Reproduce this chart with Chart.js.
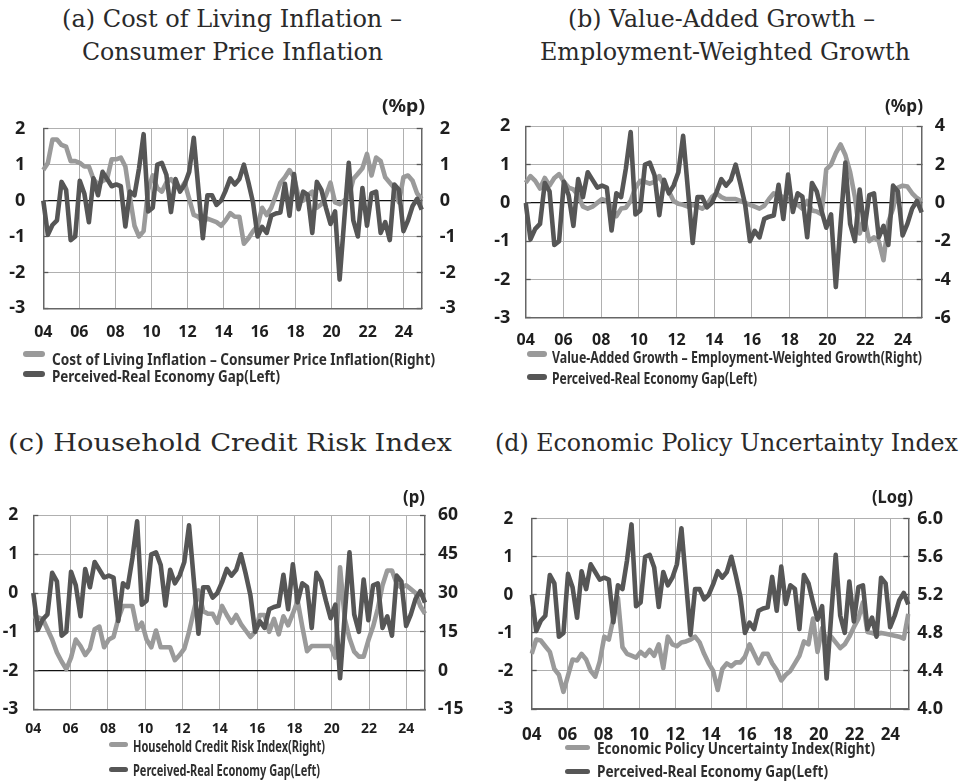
<!DOCTYPE html>
<html><head><meta charset="utf-8">
<script src="https://cdn.jsdelivr.net/npm/chart.js@4.4.1/dist/chart.umd.min.js"></script>
<style>
html,body{margin:0;padding:0;background:#fff;}
body{width:963px;height:782px;position:relative;overflow:hidden;}
canvas{position:absolute;}
.t{position:absolute;white-space:nowrap;transform-origin:0 0;line-height:1;}
.title{font-family:"DejaVu Serif","Liberation Serif",serif;font-size:25px;color:#2a2a2a;}
.unit{font-family:"Noto Sans",sans-serif;font-weight:bold;font-size:17px;color:#222;}
.leg{font-family:"Noto Sans",sans-serif;font-weight:bold;font-size:16px;color:#2e2e2e;}
.sw{position:absolute;border-radius:3px;}
</style></head><body>
<script>
// ---------- DATA ----------
const quarters = [];
for (let y = 2004; y <= 2024; y++) for (let q = 1; q <= 4; q++) quarters.push(y + 'Q' + q);
const yearTicks = [2004, 2006, 2008, 2010, 2012, 2014, 2016, 2018, 2020, 2022, 2024];
const yearLabels = ['04', '06', '08', '10', '12', '14', '16', '18', '20', '22', '24'];

// Perceived-Real Economy Gap (left axis, all panels)
const perceivedGap = [
  0.0, -0.95, -0.68, -0.55, 0.52, 0.3, -1.1, -1.0,
  0.55, 0.2, -0.6, 0.62, 0.15, 0.8, 0.6, 0.4,
  0.45, 0.4, -0.72, 0.25, 0.15, 0.9, 1.85, -0.3,
  -0.2, 1.0, 1.05, 0.72, -0.32, 0.6, 0.25, 0.45,
  0.8, 1.75, 0.35, -1.05, 0.15, 0.15, -0.12, 0.0,
  0.28, 0.62, 0.45, 0.6, 1.0, 0.5, -0.05, -1.0,
  -0.73, -0.9, -0.42, -0.36, -0.33, 0.47, -0.42, 0.74,
  -0.24, 0.25, 0.16, -0.9, 0.52, 0.3, -0.2, -0.65,
  -0.3, -2.2, -0.55, 1.05, -0.55, -1.0, 0.35, -0.7,
  0.2, 0.25, -0.9, -0.6, -1.1, 0.45, 0.3, -0.85,
  -0.55, -0.15, 0.05, -0.25
];
// (a) Cost of Living Inflation - Consumer Price Inflation (right)
const costOfLivingGap = [
  0.85, 1.05, 1.7, 1.7, 1.55, 1.5, 1.1, 1.1,
  1.05, 0.95, 0.95, 0.6, 0.45, 0.55, 0.6, 1.15,
  1.15, 1.2, 0.95, 0.1, -0.7, -1.0, -0.85, 0.3,
  0.7, 0.35, 0.25, 0.5, 0.6, 0.45, 0.3, 0.5,
  0.05, -0.4, -0.45, -0.6, -0.5, -0.55, -0.6, -0.7,
  -0.55, -0.35, -0.45, -0.45, -1.2, -1.05, -0.85, -0.7,
  -0.2, -0.4, -0.2, 0.15, 0.5, 0.65, 0.85, 0.65,
  0.1, 0.0, 0.15, 0.25, -0.2, -0.1, 0.15, 0.5,
  -0.05, -0.1, 0.0, 0.1, 0.6, 0.75, 0.9, 1.3,
  0.7, 1.2, 1.1, 0.65, 0.5, 0.35, -0.05, 0.65,
  0.7, 0.55, 0.2, 0.05
];
// (b) Value-Added Growth - Employment-Weighted Growth (right)
const valueAddedGap = [
  1.05, 1.4, 1.15, 0.75, 1.3, 0.9, 1.3, 1.5,
  1.1, 0.8, 0.7, 0.4, -0.2, -0.3, -0.2, 0.0,
  0.2, 0.1, -0.2, -0.7, -0.3, -0.25, 0.1, 0.8,
  1.15, 1.1, 1.0, 1.1, 1.4, 0.9, 0.6, 0.1,
  -0.05, -0.1, -0.2, -0.1, -0.2, -0.3, -0.1, 0.3,
  0.5, 0.3, 0.2, 0.2, 0.2, 0.1, 0.0, -0.1,
  -0.2, -0.3, -0.15, 0.2, 0.5, 0.4, 0.3, 0.2,
  0.0, -0.1, -0.3, 0.1, -0.4, -0.45, -0.6, 1.75,
  2.0, 2.6, 3.05, 2.5, 1.6, 0.3, -1.6, -0.8,
  -2.0, -1.8, -2.0, -3.0, -1.0, -0.3, 0.8, 0.9,
  0.85, 0.5, 0.25, 0.1
];
// (c) Household Credit Risk Index (right)
const householdCreditRisk = [
  21, 20.5, 20, 16, 12, 7, 3.5, 0.5,
  5, 12, 9.5, 6, 8.5, 16, 17, 9,
  12, 13, 20, 25, 25, 25, 16, 18.5,
  12, 9, 15.5, 9, 9, 9, 4, 6,
  8.5, 15, 23, 31, 23, 22, 22, 18.5,
  25, 21.5, 18.5, 21.5, 18, 15.5, 13, 15,
  21.5, 21.5, 15, 20, 14, 21, 17.5, 22,
  27, 17, 7.5, 9.5, 9.5, 9.5, 9.5, 9.5,
  5, 40, 20, 12.5, 7.3, 5.4, 5.4, 11.7,
  17, 24, 33, 38.7, 38.7, 33.6, 32, 33,
  31.5, 30, 25, 22
];
// (d) Economic Policy Uncertainty Index, log (right)
const policyUncertainty = [
  4.58, 4.73, 4.72, 4.66, 4.6, 4.42, 4.36, 4.18,
  4.35, 4.52, 4.51, 4.58, 4.52, 4.4, 4.34, 4.5,
  4.76, 4.73, 4.95, 5.17, 4.65, 4.58, 4.56, 4.54,
  4.6, 4.56, 4.62, 4.56, 4.68, 4.43, 4.76, 4.68,
  4.66, 4.7, 4.71, 4.73, 4.76, 4.7, 4.58, 4.48,
  4.4, 4.2, 4.42, 4.48, 4.45, 4.49, 4.49, 4.55,
  4.68, 4.58, 4.48, 4.58, 4.58, 4.48, 4.41, 4.3,
  4.36, 4.4, 4.48, 4.56, 4.71, 4.68, 4.95, 4.6,
  4.85, 4.72, 4.76, 4.7, 4.64, 4.68, 4.76, 4.86,
  4.95, 5.12, 4.81, 4.8, 4.78, 4.8, 4.79, 4.78,
  4.77, 4.76, 4.74, 5.0
];

const leftTicks = [2, 1, 0, -1, -2, -3];
const leftLabels = ['2', '1', '0', '-1', '-2', '-3'];
const rightTicksA = [2, 1, 0, -1, -2, -3];
const rightLabelsA = ['2', '1', '0', '-1', '-2', '-3'];
const rightTicksB = [4, 2, 0, -2, -4, -6];
const rightLabelsB = ['4', '2', '0', '-2', '-4', '-6'];
const rightTicksC = [60, 45, 30, 15, 0, -15];
const rightLabelsC = ['60', '45', '30', '15', '0', '-15'];
const rightTicksD = [6.0, 5.6, 5.2, 4.8, 4.4, 4.0];
const rightLabelsD = ['6.0', '5.6', '5.2', '4.8', '4.4', '4.0'];

const gapLabel = 'Perceived-Real Economy Gap(Left)';

// ---------- STYLE ----------
const DARK = '#565656', LIGHT = '#9a9a9a', GRID = '#b0b0b0', BORDER = '#666666', TXT = '#1e1e1e';
const FONT = 'Noto Sans';
const LINE_W = 4.6;

function makeChart(cfg) {
  const B = cfg.box, P = cfg.plot;
  const cv = document.createElement('canvas');
  cv.width = B.w; cv.height = B.h;
  cv.style.left = B.x + 'px'; cv.style.top = B.y + 'px';
  cv.style.width = B.w + 'px'; cv.style.height = B.h + 'px';
  document.body.appendChild(cv);
  const lw = P.L - B.x, rw = B.x + B.w - P.R, pt = P.T - B.y, xh = B.y + B.h - P.B;
  const TL = -5;
  const lMap = new Map(leftTicks.map((v, i) => [v, leftLabels[i]]));
  const rMap = new Map(cfg.rTicks.map((v, i) => [v, cfg.rLabels[i]]));
  const rMin = Math.min(...cfg.rTicks), rMax = Math.max(...cfg.rTicks);
  new Chart(cv, {
    type: 'line',
    data: {
      labels: quarters,
      datasets: [
        { label: gapLabel, data: perceivedGap, yAxisID: 'y', xAxisID: 'x',
          borderColor: DARK, borderWidth: LINE_W, order: 0 },
        { label: cfg.lightLabel, data: cfg.light, yAxisID: 'y2', xAxisID: 'x',
          borderColor: LIGHT, borderWidth: LINE_W, order: 1 }
      ]
    },
    options: {
      responsive: false, animation: false, events: [], devicePixelRatio: 1,
      layout: { padding: { top: pt, left: 0, right: 0, bottom: 0 } },
      elements: { point: { radius: 0 }, line: { tension: 0, borderJoinStyle: 'round', borderCapStyle: 'butt' } },
      plugins: { legend: { display: false }, tooltip: { enabled: false }, title: { display: false } },
      scales: {
        x: { type: 'category', display: false, offset: false },
        xt: {
          type: 'linear', position: 'bottom', min: 2004, max: 2025,
          afterBuildTicks: s => { s.ticks = yearTicks.map(v => ({ value: v })); },
          afterFit: s => { s.height = xh; },
          grid: { color: c => (c.tick && c.tick.value === 2004) ? BORDER : GRID, lineWidth: 1, drawTicks: false },
          border: { display: true, color: BORDER, width: 1.5 },
          ticks: { autoSkip: false, maxRotation: 0, padding: cfg.xPad, color: TXT,
                   font: { family: FONT, weight: 'bold', size: cfg.xFont },
                   callback: (v) => yearLabels[yearTicks.indexOf(v)] }
        },
        y: {
          type: 'linear', position: 'left', min: -3, max: 2,
          afterBuildTicks: s => { s.ticks = leftTicks.slice().sort((a, b) => a - b).map(v => ({ value: v })); },
          afterFit: s => { s.width = lw; },
          grid: { color: c => c.tick.value === cfg.zero ? '#111' : (c.tick.value === -3 ? BORDER : GRID),
                  lineWidth: c => c.tick.value === cfg.zero ? 1.3 : 1,
                  drawTicks: true, tickLength: TL, tickColor: '#555', tickWidth: 1.3 },
          border: { display: true, color: BORDER, width: 1.5 },
          ticks: { padding: cfg.lPad - TL, color: TXT, font: { family: FONT, weight: 'bold', size: cfg.yFont },
                   callback: v => lMap.get(v) }
        },
        y2: {
          type: 'linear', position: 'right', min: rMin, max: rMax,
          afterBuildTicks: s => { s.ticks = cfg.rTicks.slice().sort((a, b) => a - b).map(v => ({ value: v })); },
          afterFit: s => { s.width = rw; },
          grid: { drawOnChartArea: false, drawTicks: true, tickLength: TL, tickColor: '#555', tickWidth: 1.3 },
          border: { display: true, color: BORDER, width: 1.5 },
          ticks: { padding: cfg.rPad - TL, color: TXT, font: { family: FONT, weight: 'bold', size: cfg.rFont || cfg.yFont },
                   callback: v => rMap.get(v) }
        }
      }
    }
  });
}

makeChart({ box: { x: 0, y: 95, w: 480, h: 265 }, plot: { L: 43.3, R: 421.7, T: 121.7, B: 308.3 },
  light: costOfLivingGap, lightLabel: 'Cost of Living Inflation – Consumer Price Inflation(Right)',
  rTicks: rightTicksA, rLabels: rightLabelsA, zero: 0,
  lPad: 18, rPad: 18, xPad: 14.5, xFont: 16, yFont: 18 });
makeChart({ box: { x: 481, y: 95, w: 482, h: 265 }, plot: { L: 525.7, R: 921.7, T: 122.3, B: 317.7 },
  light: valueAddedGap, lightLabel: 'Value-Added Growth – Employment-Weighted Growth(Right)',
  rTicks: rightTicksB, rLabels: rightLabelsB, zero: 0,
  lPad: 15.5, rPad: 13, xPad: 13.5, xFont: 16, yFont: 18 });
makeChart({ box: { x: 0, y: 485, w: 480, h: 265 }, plot: { L: 33.3, R: 425, T: 510, B: 709.3 },
  light: householdCreditRisk, lightLabel: 'Household Credit Risk Index(Right)',
  rTicks: rightTicksC, rLabels: rightLabelsC, zero: -2,
  lPad: 15, rPad: 13, xPad: 11.5, xFont: 14, yFont: 17.5 });
makeChart({ box: { x: 481, y: 485, w: 482, h: 265 }, plot: { L: 531.7, R: 908.3, T: 510.7, B: 709 },
  light: policyUncertainty, lightLabel: 'Economic Policy Uncertainty Index(Right)',
  rTicks: rightTicksD, rLabels: rightLabelsD, zero: null,
  lPad: 18.5, rPad: 9, xPad: 15.5, xFont: 17, yFont: 17, rFont: 18 });

// ---------- TEXT ----------
function txt(s, cls, x0, x1, cy) {
  const el = document.createElement('div');
  el.className = 't ' + cls; el.textContent = s;
  document.body.appendChild(el);
  const w = el.getBoundingClientRect().width;
  const fs = parseFloat(getComputedStyle(el).fontSize);
  el.style.left = x0 + 'px';
  el.style.top = (cy - 0.53 * fs) + 'px';
  el.style.transform = 'scaleX(' + ((x1 - x0) / w) + ')';
}
function sw(color, x0, x1, cy, th) {
  const el = document.createElement('div');
  el.className = 'sw';
  el.style.background = color;
  el.style.left = x0 + 'px'; el.style.width = (x1 - x0) + 'px';
  el.style.top = (cy - th / 2) + 'px'; el.style.height = th + 'px';
  document.body.appendChild(el);
}

txt('(a) Cost of Living Inflation –', 'title', 62, 402, 19);
txt('Consumer Price Inflation', 'title', 82, 383, 52);
txt('(b) Value-Added Growth –', 'title', 568, 875, 19);
txt('Employment-Weighted Growth', 'title', 540, 910, 52);
txt('(c) Household Credit Risk Index', 'title', 8, 452, 443);
txt('(d) Economic Policy Uncertainty Index', 'title', 495, 958, 443);

txt('(%p)', 'unit', 382, 425, 106);
txt('(%p)', 'unit', 885, 923, 106);
txt('(p)', 'unit', 403, 425, 497);
txt('(Log)', 'unit', 872, 913, 497);

sw(LIGHT, 23, 45, 353.7, 6); sw(DARK, 23, 45, 374, 6);
txt('Cost of Living Inflation – Consumer Price Inflation(Right)', 'leg', 52, 435, 359);
txt(gapLabel, 'leg', 52, 280, 376);

sw(LIGHT, 527, 547, 353.7, 6); sw(DARK, 527, 547, 376.7, 6);
txt('Value-Added Growth – Employment-Weighted Growth(Right)', 'leg', 552, 922, 357);
txt(gapLabel, 'leg', 552, 757, 378);

sw(LIGHT, 109, 128, 744.7, 4.5); sw(DARK, 109, 128, 769.5, 4.5);
txt('Household Credit Risk Index(Right)', 'leg', 133, 325, 746);
txt(gapLabel, 'leg', 133, 320, 770);

sw(LIGHT, 565, 590, 747, 5); sw(DARK, 565, 590, 771, 5);
txt('Economic Policy Uncertainty Index(Right)', 'leg', 597, 875, 748.5);
txt(gapLabel, 'leg', 597, 828, 771);
</script>
</body></html>
